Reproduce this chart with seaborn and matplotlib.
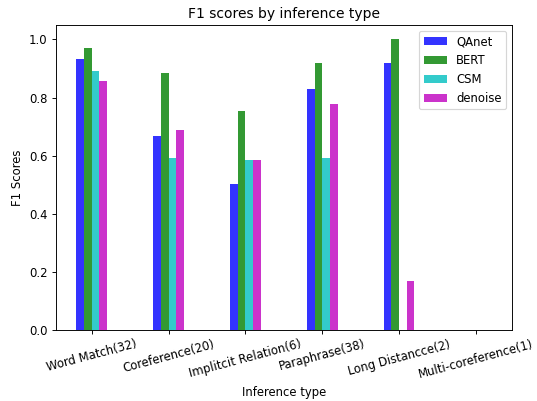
import matplotlib
matplotlib.use("Agg")
import matplotlib.pyplot as plt
import seaborn as sns
import pandas as pd

categories = ["Word Match(32)", "Coreference(20)", "Implitcit Relation(6)",
              "Paraphrase(38)", "Long Distancce(2)", "Multi-coreference(1)"]
models = ["QAnet", "BERT", "CSM", "denoise"]
qanet = [0.934, 0.666, 0.501, 0.831, 0.918, 0.0]
bert = [0.970, 0.885, 0.752, 0.918, 1.0, 0.0]
csm = [0.890, 0.591, 0.585, 0.591, 0.0, 0.0]
denoise = [0.858, 0.687, 0.585, 0.779, 0.168, 0.0]
colors = ["blue", "green", "c", "m"]

rows = []
for m, vals in zip(models, [qanet, bert, csm, denoise]):
    for c, v in zip(categories, vals):
        rows.append({"type": c, "model": m, "score": v})
df = pd.DataFrame(rows)

dpi = 83.6
fig = plt.figure(figsize=(537 / dpi, 401 / dpi), dpi=dpi)
ax = fig.add_axes([0.1037, 0.1778, 0.8497, 0.7599])
sns.barplot(data=df, x="type", y="score", hue="model", order=categories,
            hue_order=models, palette=colors, width=0.4, saturation=1,
            alpha=0.8, ax=ax, errorbar=None)
leg = ax.get_legend()
handles = leg.legend_handles
labels = [t.get_text() for t in leg.texts]
leg.remove()
ax.legend(handles, labels, loc="upper right")
ax.set_xlim(-0.47, 5.47)
ax.set_ylim(0, 1.05)
ax.set_title("F1 scores by inference type")
ax.set_xlabel("Inference type")
ax.set_ylabel("F1 Scores")
plt.setp(ax.get_xticklabels(), rotation=15)
fig.savefig("out.png", dpi=dpi)
